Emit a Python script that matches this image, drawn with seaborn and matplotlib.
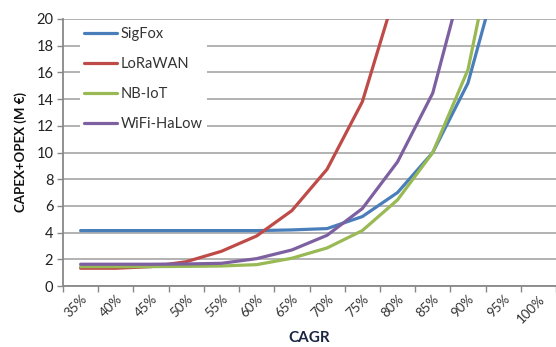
import numpy as np
import pandas as pd
import matplotlib
matplotlib.use("Agg")
import matplotlib.pyplot as plt
import seaborn as sns

categories = ["35%", "40%", "45%", "50%", "55%", "60%", "65%", "70%", "75%", "80%", "85%", "90%", "95%", "100%"]
sigfox = [4.15, 4.15, 4.15, 4.15, 4.15, 4.15, 4.2, 4.3, 5.2, 7.0, 10.0, 15.2, 24.8, 38.0]
lorawan = [1.33, 1.33, 1.45, 1.82, 2.6, 3.75, 5.65, 8.75, 13.8, 22.5, 36.0, 57.0, 88.0, 135.0]
nbiot = [1.45, 1.45, 1.45, 1.47, 1.5, 1.6, 2.08, 2.85, 4.15, 6.45, 10.0, 16.2, 29.0, 50.0]
wifi = [1.63, 1.63, 1.63, 1.65, 1.7, 2.05, 2.7, 3.8, 5.8, 9.3, 14.45, 24.4, 40.0, 65.0]
series_names = ["SigFox", "LoRaWAN", "NB-IoT", "WiFi-HaLow"]
colors = ["#4A7EBB", "#BE4B48", "#98B954", "#7D60A0"]
y_ticks = list(range(0, 21, 2))

rows = []
for name, vals in zip(series_names, [sigfox, lorawan, nbiot, wifi]):
    for i, v in enumerate(vals):
        rows.append({"pos": i, "value": v, "series": name})
df = pd.DataFrame(rows)

sns.set_theme(style="white")
plt.rcParams["font.family"] = ["Lato", "DejaVu Sans"]

fig = plt.figure(figsize=(5.56, 3.47), dpi=100)
ax = fig.add_axes([63/556, 1-286/347, 1-63/556, (286-19)/347])

sns.lineplot(data=df, x="pos", y="value", hue="series", hue_order=series_names,
             palette=colors, linewidth=2.3, sort=False, ax=ax, legend=True)

ax.set_xlim(-0.5, (556-81)/36.0)
ax.set_ylim(0, 20)
ax.set_yticks(y_ticks)
ax.set_yticklabels([str(t) for t in y_ticks], fontsize=10.5, color="#222222")
ax.set_xticks(range(len(categories)))
ax.set_xticklabels(categories, rotation=45, ha="right", rotation_mode="anchor",
                   fontsize=9.5, color="#333333")
ax.set_xticks(np.arange(-0.5, len(categories), 1.0), minor=True)
ax.tick_params(axis="x", which="major", length=0, pad=5)
ax.tick_params(axis="x", which="minor", length=4, width=1, color="#888888", bottom=True)
ax.tick_params(axis="y", which="major", length=4, width=1, color="#888888", left=True, pad=3)

ax.grid(axis="y", color="#a6a6a6", linewidth=1.2)
ax.grid(axis="x", visible=False)
ax.set_axisbelow(True)
for s in ["top", "right"]:
    ax.spines[s].set_visible(False)
for s in ["left", "bottom"]:
    ax.spines[s].set_color("#888888")
    ax.spines[s].set_linewidth(1.3)

ax.set_ylabel("CAPEX+OPEX (M €)", fontsize=9.5, fontweight="bold", color="#111111", labelpad=7)
ax.set_xlabel("CAGR", fontsize=11, fontweight="bold", color="#1a2540", labelpad=4)

handles, labels = ax.get_legend_handles_labels()
leg = ax.legend(handles, labels, loc="upper left", bbox_to_anchor=(80/556, 1-23/347),
                bbox_transform=fig.transFigure, frameon=True, facecolor="white",
                edgecolor="none", framealpha=1.0, fontsize=10.5, handlelength=2.25,
                handletextpad=0.25, labelspacing=1.08, borderpad=0.3, borderaxespad=0)
for t in leg.get_texts():
    t.set_color("#333333")
for l in leg.get_lines():
    l.set_linewidth(2.3)

fig.savefig("out.png", dpi=100)
